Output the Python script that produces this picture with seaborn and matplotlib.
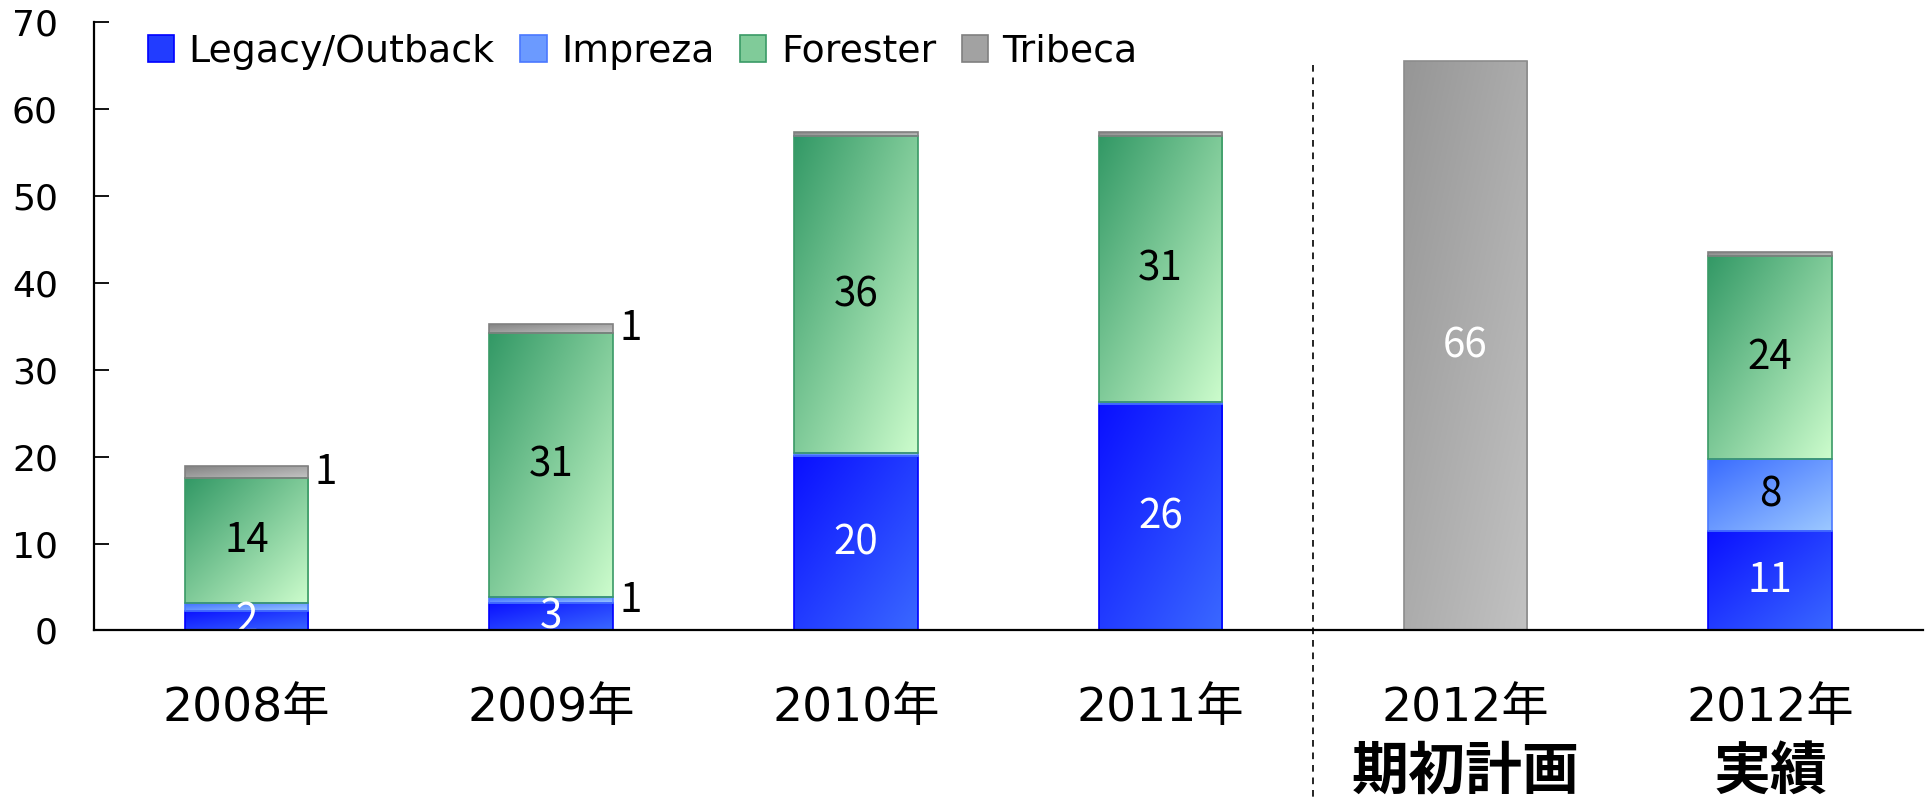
import numpy as np
import pandas as pd
import matplotlib
matplotlib.use("Agg")
import matplotlib.pyplot as plt
import matplotlib.colors as mcolors
from matplotlib.patches import Patch
from matplotlib.lines import Line2D
import seaborn as sns

# categories and labels
categories = ["2008", "2009", "2010", "2011", "2012plan", "2012act"]
year_labels = ["2008年", "2009年", "2010年", "2011年", "2012年", "2012年"]
sub_labels = ["", "", "", "", "期初計画", "実績"]

# unit sales
legacy = [2.2, 3.2, 20.1, 26.0, np.nan, 11.45]
impreza = [1.0, 0.6, 0.3, 0.3, np.nan, 8.25]
forester = [14.3, 30.4, 36.5, 30.6, np.nan, 23.4]
tribeca = [1.45, 1.1, 0.4, 0.4, np.nan, 0.4]
plan = [np.nan, np.nan, np.nan, np.nan, 65.5, np.nan]

# printed data labels
legacy_text = ["2", "3", "20", "26", "", "11"]
impreza_text = ["", "1", "", "", "", "8"]
forester_text = ["14", "31", "36", "31", "", "24"]
tribeca_text = ["1", "1", "", "", "", ""]
plan_text = ["", "", "", "", "66", ""]

series = [
    # name, values, texts, gradient start, gradient end, edge, text colour, legend
    ("Legacy/Outback", legacy, legacy_text, "#0a10ff", "#3a68ff", "#0000ff", "white", True),
    ("Impreza", impreza, impreza_text, "#3a6cff", "#9cc8ff", "#4a78ff", "black", True),
    ("Forester", forester, forester_text, "#339966", "#ccfccc", "#3a9a66", "black", True),
    ("Tribeca", tribeca, tribeca_text, "#808080", "#c4c4c4", "#808080", "black", True),
    ("plan", plan, plan_text, "#969696", "#c2c2c2", "#8c8c8c", "white", False),
]

sns.set_style("white")
plt.rcParams["font.family"] = ["DejaVu Sans", "Noto Sans CJK JP"]
plt.rcParams["text.color"] = "black"
plt.rcParams["xtick.color"] = "black"
plt.rcParams["ytick.color"] = "black"
LABEL_FONT = ["Noto Sans CJK JP", "DejaVu Sans"]


def gradient_fill(ax, bar, c0, c1, n=64):
    """Paint a diagonal gradient (top-left dark -> bottom-right light) inside a bar."""
    x0, y0 = bar.get_x(), bar.get_y()
    w, h = bar.get_width(), bar.get_height()
    u = np.linspace(0, 1, n)
    t = (u[None, :] + u[:, None]) / 2
    a, b = np.array(mcolors.to_rgb(c0)), np.array(mcolors.to_rgb(c1))
    img = a + (b - a) * t[..., None]
    im = ax.imshow(img, extent=[x0, x0 + w, y0, y0 + h], origin="upper",
                   aspect="auto", interpolation="bilinear", zorder=1.5)
    im.set_clip_path(bar)


fig = plt.figure(figsize=(19.31, 7.98), dpi=100)
ax = fig.add_axes([0.0487, 0.2099, 0.9469, 0.7625])

bottom = np.zeros(len(categories))
handles = []
for name, vals, texts, c0, c1, edge, tcol, in_legend in series:
    vals = np.asarray(vals, dtype=float)
    keep = ~np.isnan(vals)
    df = pd.DataFrame({"cat": np.array(categories)[keep], "val": vals[keep]})
    sns.barplot(data=df, x="cat", y="val", order=categories, color=c0,
                saturation=1, errorbar=None, width=0.405, ax=ax,
                bottom=bottom[keep], edgecolor=edge, linewidth=1.2)
    bars = ax.containers[-1]
    for bar in bars:
        gradient_fill(ax, bar, c0, c1)
        bar.set_facecolor("none")
        bar.set_zorder(2)

    # data labels
    for i in np.where(keep)[0]:
        if not texts[i]:
            continue
        mid = bottom[i] + vals[i] / 2
        if vals[i] < 1.5:
            ax.text(i + 0.225, mid, texts[i], ha="left", va="center", family=LABEL_FONT,
                    fontsize=29, color="black", zorder=4)
        else:
            ax.text(i, mid, texts[i], ha="center", va="center", family=LABEL_FONT,
                    fontsize=29, color=tcol, zorder=4)

    bottom[keep] += vals[keep]
    if in_legend:
        mid_col = (np.array(mcolors.to_rgb(c0)) + np.array(mcolors.to_rgb(c1))) / 2
        handles.append(Patch(facecolor=mid_col, edgecolor=edge, linewidth=1.2, label=name))

ax.set_xlim(-0.5, len(categories) - 0.5)
ax.set_ylim(0, 70)
ax.set_yticks(np.arange(0, 71, 10))
ax.set_xlabel("")
ax.set_ylabel("")

ax.set_xticks(range(len(categories)), year_labels)
ax.set_xticks(np.arange(0.5, len(categories), 1), minor=True)
ax.tick_params(axis="x", which="major", length=0, labelsize=34, pad=40)
ax.tick_params(axis="x", which="minor", direction="in", length=11, width=1.3, color="black")
ax.tick_params(axis="y", direction="in", length=11, width=1.3, color="black",
               labelsize=26, pad=26, left=True)

for i, s in enumerate(sub_labels):
    if s:
        ax.text(i, -0.232, s, transform=ax.get_xaxis_transform(), ha="center",
                va="center", fontsize=41, fontweight="bold", family=LABEL_FONT)

for side in ["top", "right"]:
    ax.spines[side].set_visible(False)
for side in ["left", "bottom"]:
    ax.spines[side].set_color("black")
    ax.spines[side].set_linewidth(1.6)
    ax.spines[side].set_zorder(5)

# divider between actual years and the 2012 columns
ax.add_line(Line2D([3.5, 3.5], [0.93, -0.3], transform=ax.get_xaxis_transform(),
                   color="black", linewidth=1.2, linestyle=(0, (4, 3.5)), clip_on=False))

ax.legend(handles=handles, loc="center left", bbox_to_anchor=(0.0295, 0.951),
          ncol=4, frameon=False, fontsize=27.3, borderpad=0, borderaxespad=0,
          handlelength=0.69, handleheight=0.69, handletextpad=0.38, columnspacing=0.68)

fig.savefig("out.png", dpi=100)
